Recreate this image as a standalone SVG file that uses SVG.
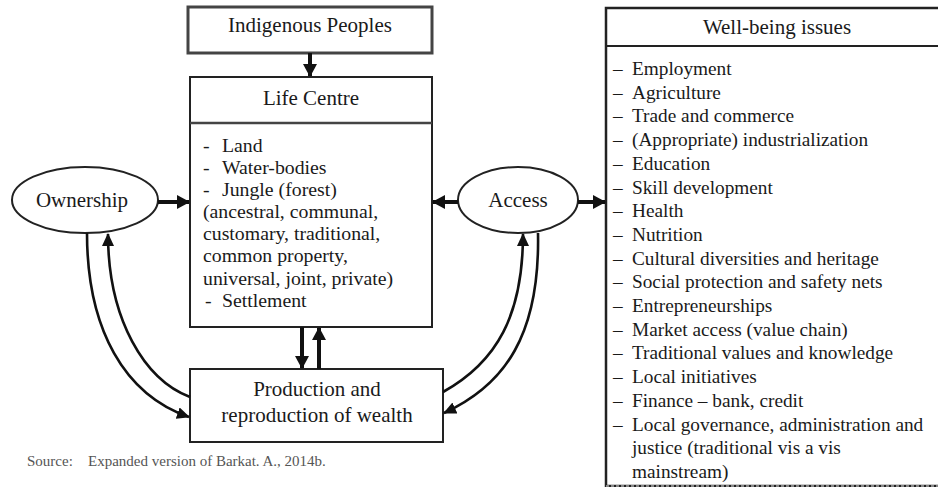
<svg xmlns="http://www.w3.org/2000/svg" width="938" height="487" viewBox="0 0 938 487">
<defs>
<style>
text{font-family:"Liberation Serif","Times New Roman",serif;fill:#1a1a1a}
.h{font-size:21px;text-anchor:middle}
.l{font-size:19.8px}
.w{font-size:19.3px}
.src{font-size:15px;fill:#555}
.box{fill:#fff;stroke:#222;stroke-width:2}
.ell{fill:#fff;stroke:#222;stroke-width:2}
.thick{fill:none;stroke:#111;stroke-width:4}
.curve{fill:none;stroke:#111;stroke-width:2.6}
</style>
<marker id="ah" markerUnits="userSpaceOnUse" markerWidth="14" markerHeight="14" refX="12" refY="7" orient="auto">
<path d="M0,0 L13,7 L0,14 z" fill="#111"/>
</marker>
<marker id="ac" markerUnits="userSpaceOnUse" markerWidth="14" markerHeight="12" refX="12" refY="6" orient="auto">
<path d="M0,0 L13,6 L0,12 z" fill="#111"/>
</marker>
</defs>
<rect width="938" height="487" fill="#fff"/>

<g id="indigenous">
<rect x="188" y="7" width="244" height="46" fill="#fff" stroke="#444" stroke-width="3"/>
<text class="h" x="310" y="32">Indigenous Peoples</text>
</g>

<g id="life-centre">
<rect class="box" x="190" y="77" width="242" height="250"/>
<line x1="190" y1="123" x2="432" y2="123" stroke="#444" stroke-width="2.5"/>
<text class="h" x="311" y="105">Life Centre</text>
<text class="l" x="203" y="152">-<tspan x="222">Land</tspan></text>
<text class="l" x="203" y="174">-<tspan x="222">Water-bodies</tspan></text>
<text class="l" x="203" y="196">-<tspan x="222">Jungle (forest)</tspan></text>
<text class="l" x="203" y="218">(ancestral, communal,</text>
<text class="l" x="203" y="240">customary, traditional,</text>
<text class="l" x="203" y="262">common property,</text>
<text class="l" x="203" y="285">universal, joint, private)</text>
<text class="l" x="205" y="307">-<tspan x="222">Settlement</tspan></text>
</g>

<g id="production">
<rect class="box" x="190" y="369" width="253" height="73"/>
<text class="h" x="317" y="396">Production and</text>
<text class="h" x="317" y="422">reproduction of wealth</text>
</g>

<g id="ownership">
<ellipse class="ell" cx="85" cy="200" rx="73" ry="33"/>
<text class="h" x="82" y="207">Ownership</text>
</g>

<g id="access">
<ellipse class="ell" cx="518" cy="200" rx="60" ry="33"/>
<text class="h" x="518" y="207">Access</text>
</g>

<g id="well-being">
<rect x="606" y="8" width="340" height="478" fill="#fff" stroke="#222" stroke-width="2.5"/>
<line x1="606" y1="486" x2="938" y2="486" stroke="#aaa" stroke-width="1.5" stroke-dasharray="3 2"/>
<line x1="606" y1="46" x2="938" y2="46" stroke="#222" stroke-width="2"/>
<text class="h" x="777" y="34">Well-being issues</text>
<text class="w" x="613" y="75">–<tspan x="632">Employment</tspan></text>
<text class="w" x="613" y="98.7">–<tspan x="632">Agriculture</tspan></text>
<text class="w" x="613" y="122.4">–<tspan x="632">Trade and commerce</tspan></text>
<text class="w" x="613" y="146.1">–<tspan x="632">(Appropriate) industrialization</tspan></text>
<text class="w" x="613" y="169.8">–<tspan x="632">Education</tspan></text>
<text class="w" x="613" y="193.5">–<tspan x="632">Skill development</tspan></text>
<text class="w" x="613" y="217.2">–<tspan x="632">Health</tspan></text>
<text class="w" x="613" y="240.9">–<tspan x="632">Nutrition</tspan></text>
<text class="w" x="613" y="264.6">–<tspan x="632">Cultural diversities and heritage</tspan></text>
<text class="w" x="613" y="288.3">–<tspan x="632">Social protection and safety nets</tspan></text>
<text class="w" x="613" y="312">–<tspan x="632">Entrepreneurships</tspan></text>
<text class="w" x="613" y="335.7">–<tspan x="632">Market access (value chain)</tspan></text>
<text class="w" x="613" y="359.4">–<tspan x="632">Traditional values and knowledge</tspan></text>
<text class="w" x="613" y="383.1">–<tspan x="632">Local initiatives</tspan></text>
<text class="w" x="613" y="406.8">–<tspan x="632">Finance – bank, credit</tspan></text>
<text class="w" x="613" y="430.5">–<tspan x="632">Local governance, administration and</tspan></text>
<text class="w" x="632" y="454.2">justice (traditional vis a vis</text>
<text class="w" x="632" y="477.9">mainstream)</text>
</g>

<g id="source">
<text class="src" x="27" y="466">Source:<tspan x="88">Expanded version of Barkat. A., 2014b.</tspan></text>
</g>

<g id="connectors">
<line class="thick" x1="310" y1="53" x2="310" y2="76" marker-end="url(#ah)"/>
<line class="thick" x1="158" y1="202" x2="189" y2="202" marker-end="url(#ah)"/>
<line class="thick" x1="458" y1="202" x2="433" y2="202" marker-end="url(#ah)"/>
<line class="thick" x1="578" y1="202" x2="605" y2="202" marker-end="url(#ah)"/>
<line class="thick" x1="302" y1="327" x2="302" y2="368" marker-end="url(#ah)"/>
<line class="thick" x1="319" y1="369" x2="319" y2="328" marker-end="url(#ah)"/>
<path class="curve" d="M87,233 C87,330 125,395 189,417" marker-end="url(#ac)"/>
<path class="curve" d="M190,397 C145,380 108,320 108,234" marker-end="url(#ac)"/>
<path class="curve" d="M443,392 C497,362 523,315 523,234" marker-end="url(#ac)"/>
<path class="curve" d="M538,233 C540,335 505,385 444,413" marker-end="url(#ac)"/>
</g>
</svg>
